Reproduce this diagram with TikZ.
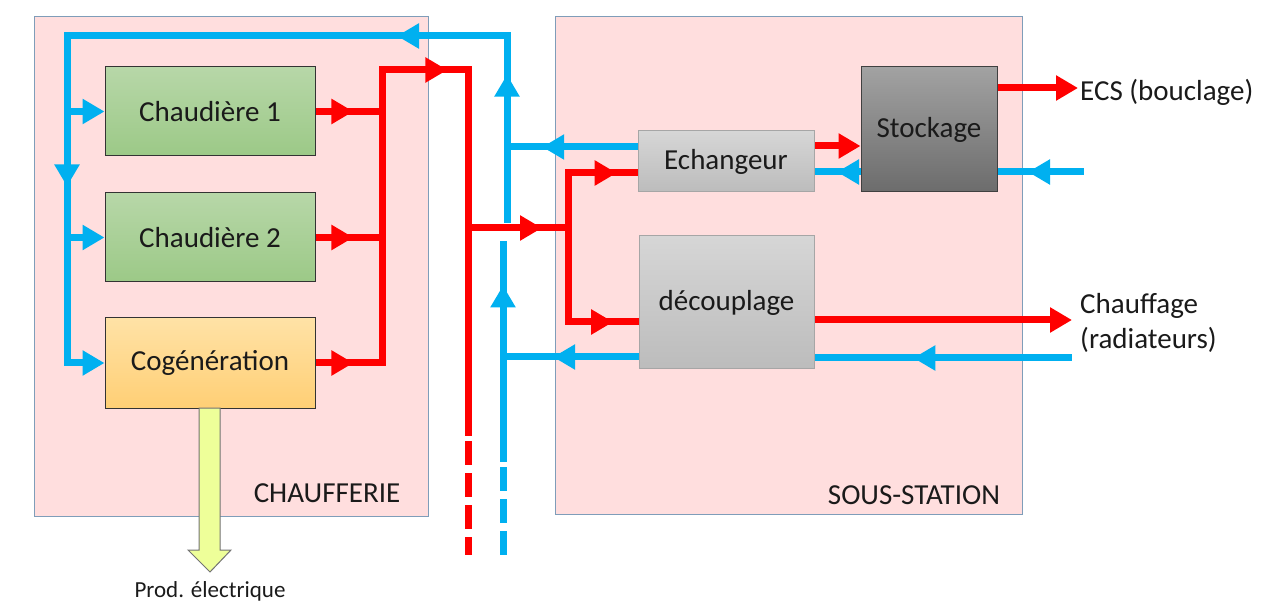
\documentclass[tikz,border=0pt]{standalone}
\usepackage{fontspec}
\setmainfont{Carlito}
\usetikzlibrary{arrows.meta,decorations.markings}
\definecolor{pipeblue}{HTML}{00B0F0}
\definecolor{pipered}{HTML}{FF0000}
\definecolor{zonefill}{HTML}{FFDEDE}
\definecolor{zoneline}{HTML}{7F9DB9}
\definecolor{greentop}{HTML}{B7D7A8}
\definecolor{greenbot}{HTML}{9CC987}
\definecolor{orangetop}{HTML}{FFE2A6}
\definecolor{orangebot}{HTML}{FFCF75}
\definecolor{greytop}{HTML}{D6D6D6}
\definecolor{greybot}{HTML}{BCBCBC}
\definecolor{darktop}{HTML}{A2A2A2}
\definecolor{darkbot}{HTML}{6C6C6C}
\definecolor{prodfill}{HTML}{EEFF99}
\definecolor{txt}{HTML}{1A1A1A}
\pgfdeclarelayer{bg}
\pgfdeclarelayer{pipes}
\pgfsetlayers{bg,pipes,main}
\begin{document}
\begin{tikzpicture}[x=1pt,y=-1pt,
  zone/.style={draw=zoneline, line width=1pt, fill=zonefill, inner sep=0pt},
  blk/.style={line width=1pt, inner sep=0pt, text=txt, font=\fontsize{29}{34}\selectfont},
  greenbox/.style={blk, draw=black!80, top color=greentop, bottom color=greenbot, minimum width=210pt, minimum height=89pt},
  orangebox/.style={blk, draw=black!80, top color=orangetop, bottom color=orangebot, minimum width=210pt, minimum height=90pt},
  greybox/.style={blk, draw=black!35, top color=greytop, bottom color=greybot},
  darkbox/.style={blk, draw=black!75, top color=darktop, bottom color=darkbot},
  lbl/.style={inner sep=0pt, text=txt, font=\fontsize{29}{35}\selectfont},
  hot/.style={color=pipered, line width=7pt, line cap=rect},
  cold/.style={color=pipeblue, line width=7pt, line cap=rect},
  tipA/.style={-{Triangle[length=22pt,width=24pt]}, line cap=butt},
  midarrow/.style={postaction={decorate}, decoration={markings, mark=at position #1 with {\arrow{Triangle[length=22pt,width=24pt]}}}},
  brokenline/.style={line cap=butt, dash pattern=on 24pt off 8pt}
]
\useasboundingbox (0,0) rectangle (1274,609);

% zones
\begin{pgfonlayer}{bg}
\node[zone, minimum width=394pt, minimum height=499pt] (zchauf) at (231,266.5) {};
\node[zone, minimum width=467pt, minimum height=497pt] (zsous) at (788.5,265.5) {};
\end{pgfonlayer}
\node[lbl, anchor=base] (lchauf) at (327,502) {CHAUFFERIE};
\node[lbl, anchor=base] (lsous) at (914,504) {SOUS-STATION};

% blocks
\node[greenbox] (c1) at (210,111.5) {Chaudière 1};
\node[greenbox] (c2) at (210,237.5) {Chaudière 2};
\node[orangebox] (cog) at (210,363) {Cogénération};
\node[greybox, minimum width=176pt, minimum height=61pt] (ech) at (726,161.5) {Echangeur};
\node[darkbox, minimum width=136pt, minimum height=125pt] (sto) at (929,129.5) {Stockage};
\node[greybox, minimum width=175pt, minimum height=133pt] (dec) at (726.5,302.5) {découplage};

% outside labels
\node[lbl, anchor=west] (ecs) at (1080,92) {ECS (bouclage)};
\node[lbl, anchor=west, align=left] (chf) at (1080,323) {Chauffage\\(radiateurs)};
\node[inner sep=0pt, text=txt, font=\fontsize{23}{27}\selectfont] (prod) at (210,591) {Prod. électrique};

% coordinates
\coordinate (bU) at (507,220);
\coordinate (bTR) at (507,36);
\coordinate (bTL) at (67,36);
\coordinate (bBL) at (67,363);
\coordinate (bE) at (507,147);
\coordinate (bD) at (503,357);
\coordinate (bL) at (503,458);
\coordinate (bLtop) at (503,245);
\coordinate (bDash) at (503,467);
\coordinate (bEnd) at (503,555);
\coordinate (rTL) at (382,70);
\coordinate (rTR) at (468,70);
\coordinate (rD) at (468,432);
\coordinate (rDash) at (468,441);
\coordinate (rEnd) at (468,555);
\coordinate (rM) at (468,228);
\coordinate (rS) at (568,228);
\coordinate (rE1) at (568,173);
\coordinate (rE2) at (568,322);
\coordinate (es) at (840,146);
\coordinate (se) at (840,172);
\coordinate (ecsT) at (1078,88);
\coordinate (ecsB) at (1080,172);
\coordinate (chT) at (1072,320);
\coordinate (chB) at (1068,358);

\begin{pgfonlayer}{pipes}
% cold return, chaufferie side
\draw[cold, midarrow=0.79] (bU) -- (bTR);
\draw[cold, midarrow=0.25] (bTR) -- (bTL);
\draw[cold, midarrow=0.46] (bTL) -- (bBL);
\draw[cold, tipA] (bBL) -- (cog.west);
\draw[cold, tipA] (c1.west -| bTL) -- (c1.west);
\draw[cold, tipA] (c2.west -| bTL) -- (c2.west);
% hot outputs
\draw[hot, midarrow=0.57] (c1.east) -- (c1.east -| rTL);
\draw[hot, midarrow=0.57] (c2.east) -- (c2.east -| rTL);
\draw[hot, midarrow=0.57] (cog.east) -- (cog.east -| rTL);
\draw[hot] (cog.east -| rTL) -- (rTL);
\draw[hot, midarrow=0.76] (rTL) -- (rTR);
\draw[hot] (rTR) -- (rD);
\draw[hot, brokenline] (rDash) -- (rEnd);
% hot to sous-station
\draw[hot, midarrow=0.74] (rM) -- (rS);
\draw[hot] (rE1) -- (rE2);
\draw[hot, midarrow=0.7] (rE1) -- (rE1 -| ech.west);
\draw[hot, midarrow=0.64] (rE2) -- (rE2 -| dec.west);
% cold from sous-station
\draw[cold, midarrow=0.73] (ech.west |- bE) -- (bE);
\draw[cold, midarrow=0.63] (dec.west |- bD) -- (bD);
\draw[cold, midarrow=0.81] (bL) -- (bLtop);
\draw[cold, brokenline] (bDash) -- (bEnd);
% echangeur - stockage
\draw[hot, tipA] (es -| ech.east) -- (es -| sto.west);
\draw[cold, midarrow=0.51] (se -| sto.west) -- (se -| ech.east);
% outputs
\draw[hot, tipA] (ecsT -| sto.east) -- (ecsT);
\draw[cold, midarrow=0.63] (ecsB) -- (ecsB -| sto.east);
\draw[hot, tipA] (chT -| dec.east) -- (chT);
\draw[cold, midarrow=0.61] (chB) -- (chB -| dec.east);
\end{pgfonlayer}

% electricity arrow
\draw[draw=black!55, line width=1pt, fill=prodfill, line join=miter]
  (199,408) -- (220,408) -- (220,550) -- (231,550) -- (210,572) -- (188,550) -- (199,550) -- cycle;
\end{tikzpicture}
\end{document}
